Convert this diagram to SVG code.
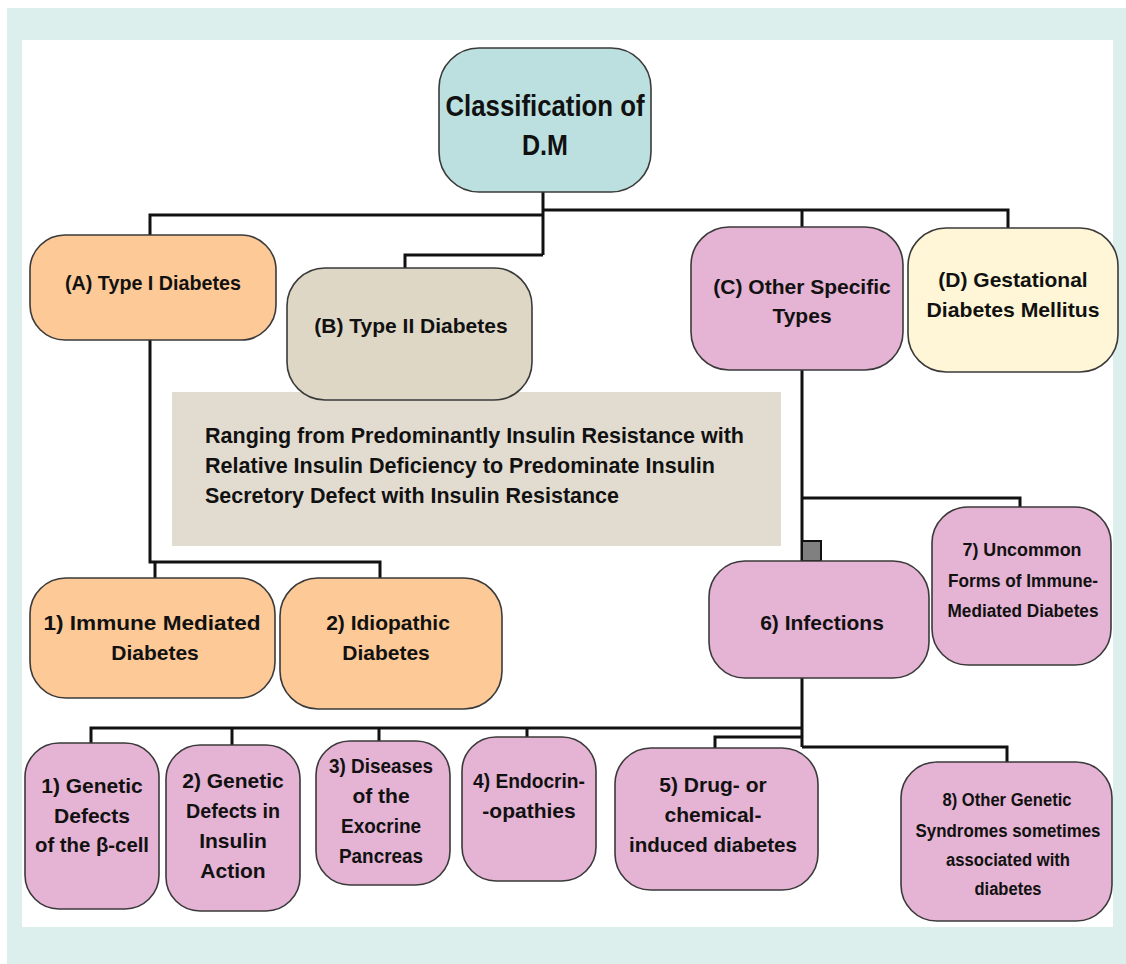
<svg xmlns="http://www.w3.org/2000/svg" width="1126" height="964" viewBox="0 0 1126 964">
<style>
.n{stroke:#3a3a3a;stroke-width:1.6}
.t{font-family:"Liberation Sans",Arial,sans-serif;font-weight:bold;fill:#111;text-anchor:middle}
.f21{font-size:21px}
.f18{font-size:18px}
.c{fill:none;stroke:#111;stroke-width:3;stroke-linejoin:miter}
.teal{fill:#BBE0DF}.peach{fill:#FCC997}.beige{fill:#DED7C5}.pink{fill:#E5B3D3}.yel{fill:#FEF6D6}
</style>
<rect x="7" y="8" width="1119" height="956" fill="#DDEFEC"/>
<rect x="22" y="40" width="1091" height="887" fill="#FFFFFF"/>
<g id="connectors">
<path class="c" d="M543,192 V255"/>
<path class="c" stroke-width="4" d="M150,235 V215 H543"/>
<path class="c" d="M405,268 V255 H543"/>
<path class="c" d="M543,210 H1008 V228"/>
<path class="c" d="M802,210 V227"/>
<path class="c" d="M802,370 V747"/>
<path class="c" d="M802,498 H1020 V507"/>
<path class="c" d="M150,340 V562 H380 V578"/>
<path class="c" d="M155,562 V578"/>
<path class="c" stroke-width="4" d="M91,743 V728 H802"/>
<path class="c" d="M232,728 V745"/>
<path class="c" d="M379,728 V741"/>
<path class="c" d="M527,728 V737"/>
<path class="c" d="M715,748 V737 H802"/>
<path class="c" d="M802,747 H1007 V762"/>
<rect x="802" y="541" width="19" height="20" fill="#808080" stroke="#111" stroke-width="2"/>
</g>
<g id="root">
<rect class="n teal" x="439" y="48" width="212" height="144" rx="40"/>
<text class="t" x="545" y="116" font-size="29" textLength="199" lengthAdjust="spacingAndGlyphs">Classification of</text>
<text class="t" x="545" y="155" font-size="29" textLength="46" lengthAdjust="spacingAndGlyphs">D.M</text>
</g>
<g id="typeA">
<rect class="n peach" x="30" y="235" width="246" height="105" rx="35"/>
<text class="t f21" x="153" y="290" textLength="176" lengthAdjust="spacingAndGlyphs">(A) Type I Diabetes</text>
</g>
<g id="typeII-note">
<rect x="172" y="392" width="609" height="154" fill="#E2DCD0"/>
<text class="t" style="text-anchor:start" font-size="22" x="205" y="443" textLength="539" lengthAdjust="spacingAndGlyphs">Ranging from Predominantly Insulin Resistance with</text>
<text class="t" style="text-anchor:start" font-size="22" x="205" y="473" textLength="510" lengthAdjust="spacingAndGlyphs">Relative Insulin Deficiency to Predominate Insulin</text>
<text class="t" style="text-anchor:start" font-size="22" x="205" y="503" textLength="414" lengthAdjust="spacingAndGlyphs">Secretory Defect with Insulin Resistance</text>
</g>
<g id="typeB">
<rect class="n beige" x="287" y="268" width="245" height="132" rx="38"/>
<text class="t f21" x="411" y="333">(B) Type II Diabetes</text>
</g>
<g id="typeC">
<rect class="n pink" x="691" y="227" width="212" height="143" rx="38"/>
<text class="t f21" x="802" y="294">(C) Other Specific</text>
<text class="t f21" x="802" y="323">Types</text>
</g>
<g id="typeD">
<rect class="n yel" x="908" y="228" width="210" height="144" rx="38"/>
<text class="t f21" x="1013" y="287">(D) Gestational</text>
<text class="t f21" x="1013" y="317" textLength="173" lengthAdjust="spacingAndGlyphs">Diabetes Mellitus</text>
</g>
<g id="a1">
<rect class="n peach" x="30" y="578" width="245" height="120" rx="36"/>
<text class="t f21" x="152" y="630" textLength="217" lengthAdjust="spacingAndGlyphs">1) Immune Mediated</text>
<text class="t f21" x="155" y="660">Diabetes</text>
</g>
<g id="a2">
<rect class="n peach" x="280" y="578" width="222" height="131" rx="38"/>
<text class="t f21" x="388" y="630">2) Idiopathic</text>
<text class="t f21" x="386" y="660">Diabetes</text>
</g>
<g id="c6">
<rect class="n pink" x="709" y="561" width="220" height="117" rx="36"/>
<text class="t f21" x="822" y="630">6) Infections</text>
</g>
<g id="c7">
<rect class="n pink" x="932" y="507" width="179" height="158" rx="36"/>
<text class="t f18" x="1022" y="556" textLength="119" lengthAdjust="spacingAndGlyphs">7) Uncommon</text>
<text class="t f18" x="1023" y="587" textLength="150" lengthAdjust="spacingAndGlyphs">Forms of Immune-</text>
<text class="t f18" x="1023" y="617" textLength="151" lengthAdjust="spacingAndGlyphs">Mediated Diabetes</text>
</g>
<g id="c1">
<rect class="n pink" x="25" y="743" width="134" height="166" rx="34"/>
<text class="t f21" x="92" y="793">1) Genetic</text>
<text class="t f21" x="92" y="823">Defects</text>
<text class="t f21" x="92" y="852" textLength="114" lengthAdjust="spacingAndGlyphs">of the β-cell</text>
</g>
<g id="c2">
<rect class="n pink" x="166" y="745" width="134" height="166" rx="34"/>
<text class="t f21" x="233" y="788">2) Genetic</text>
<text class="t f21" x="233" y="818" textLength="94" lengthAdjust="spacingAndGlyphs">Defects in</text>
<text class="t f21" x="233" y="848">Insulin</text>
<text class="t f21" x="233" y="878">Action</text>
</g>
<g id="c3">
<rect class="n pink" x="316" y="741" width="134" height="144" rx="34"/>
<text class="t f21" x="381" y="773" textLength="104" lengthAdjust="spacingAndGlyphs">3) Diseases</text>
<text class="t f21" x="381" y="803">of the</text>
<text class="t f21" x="381" y="833" textLength="80" lengthAdjust="spacingAndGlyphs">Exocrine</text>
<text class="t f21" x="381" y="863" textLength="84" lengthAdjust="spacingAndGlyphs">Pancreas</text>
</g>
<g id="c4">
<rect class="n pink" x="462" y="737" width="134" height="144" rx="34"/>
<text class="t f21" x="529" y="788" textLength="112" lengthAdjust="spacingAndGlyphs">4) Endocrin-</text>
<text class="t f21" x="529" y="818">-opathies</text>
</g>
<g id="c5">
<rect class="n pink" x="615" y="748" width="203" height="142" rx="36"/>
<text class="t f21" x="713" y="792">5) Drug- or</text>
<text class="t f21" x="713" y="822">chemical-</text>
<text class="t f21" x="713" y="852" textLength="168" lengthAdjust="spacingAndGlyphs">induced diabetes</text>
</g>
<g id="c8">
<rect class="n pink" x="901" y="762" width="211" height="159" rx="36"/>
<text class="t f18" x="1007" y="806" textLength="129" lengthAdjust="spacingAndGlyphs">8) Other Genetic</text>
<text class="t f18" x="1008" y="837" textLength="185" lengthAdjust="spacingAndGlyphs">Syndromes sometimes</text>
<text class="t f18" x="1008" y="866" textLength="124" lengthAdjust="spacingAndGlyphs">associated with</text>
<text class="t f18" x="1008" y="895" textLength="67" lengthAdjust="spacingAndGlyphs">diabetes</text>
</g>
</svg>
